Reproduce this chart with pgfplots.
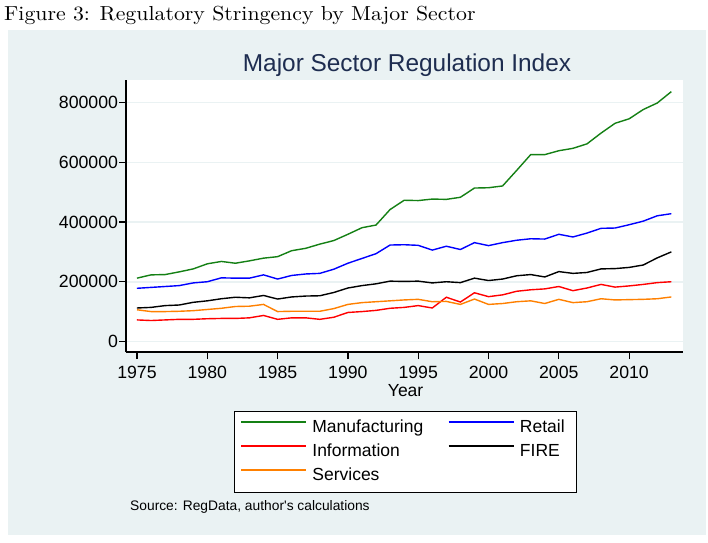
\documentclass[border=0pt]{standalone}
\usepackage{fontspec}
\usepackage{pgfplots}
\usepackage{pgfplotstable}
\pgfplotsset{compat=1.18}
\newfontfamily\arial{Liberation Sans}
\newfontfamily\capfont{lmroman10-regular}[Extension=.otf]
\definecolor{panel}{RGB}{234,242,243}
\definecolor{titlenavy}{RGB}{30,45,80}
\definecolor{mfg}{RGB}{20,128,20}
\definecolor{svc}{RGB}{255,128,0}

% regulation index by sector
\pgfplotstableread{
year mfg retail info fire serv
1975 212000 178000 72000 112000 106000
1976 223000 181000 70000 114000 100000
1977 224000 184000 72000 120000 100000
1978 233000 187000 74000 122000 101000
1979 243000 196000 74000 131000 103000
1980 260000 200000 76000 136000 107000
1981 268000 213000 77000 143000 111000
1982 262000 212000 77000 148000 117000
1983 270000 212000 79000 146000 118000
1984 279000 223000 87000 154000 124000
1985 284000 209000 74000 142000 100000
1986 304000 221000 79000 149000 101000
1987 312000 226000 79000 152000 101000
1988 326000 228000 74000 153000 101000
1989 338000 242000 81000 164000 110000
1990 359000 262000 97000 179000 124000
1991 381000 278000 100000 187000 130000
1992 390000 294000 104000 193000 133000
1993 442000 323000 111000 202000 136000
1994 473000 324000 114000 201000 139000
1995 472000 322000 120000 202000 141000
1996 477000 306000 112000 196000 133000
1997 476000 319000 148000 200000 134000
1998 483000 308000 132000 197000 124000
1999 514000 331000 163000 212000 142000
2000 515000 321000 150000 204000 124000
2001 521000 331000 156000 209000 127000
2002 573000 339000 168000 220000 133000
2003 626000 344000 173000 224000 136000
2004 626000 343000 176000 216000 127000
2005 639000 359000 184000 234000 141000
2006 647000 350000 170000 228000 130000
2007 662000 363000 179000 231000 133000
2008 698000 379000 191000 243000 143000
2009 731000 380000 182000 244000 139000
2010 746000 391000 186000 248000 140000
2011 777000 403000 191000 256000 141000
2012 799000 421000 197000 280000 143000
2013 837000 428000 200000 300000 149000
}\sectors

\begin{document}
\begin{tikzpicture}
\path[use as bounding box] (0pt,0pt) rectangle (708pt,542pt);
\fill[white] (0pt,0pt) rectangle (708pt,542pt);
\fill[panel] (8pt,7pt) rectangle (706pt,512pt);
\node[anchor=base west, inner sep=0pt, font=\capfont\fontsize{20.3}{24}\selectfont] at (4pt,521.3pt)
  {\scalebox{1.075}[1]{Figure 3: Regulatory Stringency by Major Sector}};
\node[anchor=base, inner sep=0pt, text=titlenavy, font=\arial\fontsize{24.4}{28}\selectfont] at (407pt,470.3pt)
  {Major Sector Regulation Index};

\begin{axis}[
  at={(126pt,190pt)}, anchor=south west,
  scale only axis, width=557pt, height=272pt,
  xmin=1974.22, xmax=2013.83,
  ymin=-35500, ymax=876000,
  axis x line*=bottom, axis y line*=left,
  axis line style={line width=1.2pt, -},
  xtick={1975,1980,...,2010},
  ytick={0,200000,400000,600000,800000},
  scaled y ticks=false,
  tick align=outside,
  major tick length=7pt,
  tick style={line width=1.2pt, black},
  ymajorgrids,
  grid style={panel, line width=1.6pt},
  axis background/.style={fill=white},
  font=\arial\fontsize{17.5}{20}\selectfont,
  /pgf/number format/assume math mode=true,
  tick label style={font=\arial\fontsize{17.7}{20}\selectfont},
  xticklabel style={/pgf/number format/1000 sep={}, anchor=base, inner sep=0pt, yshift=-19pt},
  yticklabel style={/pgf/number format/fixed, /pgf/number format/1000 sep={}, anchor=east, inner sep=0pt, xshift=-0.8pt},
  xlabel={Year},
  xlabel style={at={(axis description cs:0.502,0)}, anchor=base, inner sep=0pt, yshift=-44pt},
  legend columns=2,
  legend cell align=left,
  legend style={at={(axis description cs:0.501,-0.2175)}, anchor=north,
    draw=black, line width=1pt, fill=white,
    inner xsep=6pt, inner ysep=4.3pt,
    font=\arial\fontsize{17.5}{20}\selectfont,
    nodes={inner xsep=5.3pt, inner ysep=4pt, text height=12.5pt, text depth=3.5pt},
    row sep=0pt, column sep=0pt},
  legend image code/.code={\draw[line width=2pt] (0pt,5.7pt) -- (65pt,5.7pt);},
  every axis plot/.append style={line width=1.4pt, mark=none},
]
\addplot[mfg] table[x=year, y=mfg] {\sectors};
\addlegendentry{\makebox[130pt][l]{Manufacturing}}
\addplot[blue] table[x=year, y=retail] {\sectors};
\addlegendentry{Retail}
\addplot[red] table[x=year, y=info] {\sectors};
\addlegendentry{\makebox[130pt][l]{Information}}
\addplot[black] table[x=year, y=fire] {\sectors};
\addlegendentry{FIRE}
\addplot[svc] table[x=year, y=serv] {\sectors};
\addlegendentry{\makebox[130pt][l]{Services}}
\end{axis}

\node[anchor=base west, inner sep=0pt, font=\arial\fontsize{13.8}{16}\selectfont] at (130pt,32pt)
  {Source: RegData, author\textquotesingle s calculations};
\end{tikzpicture}
\end{document}
